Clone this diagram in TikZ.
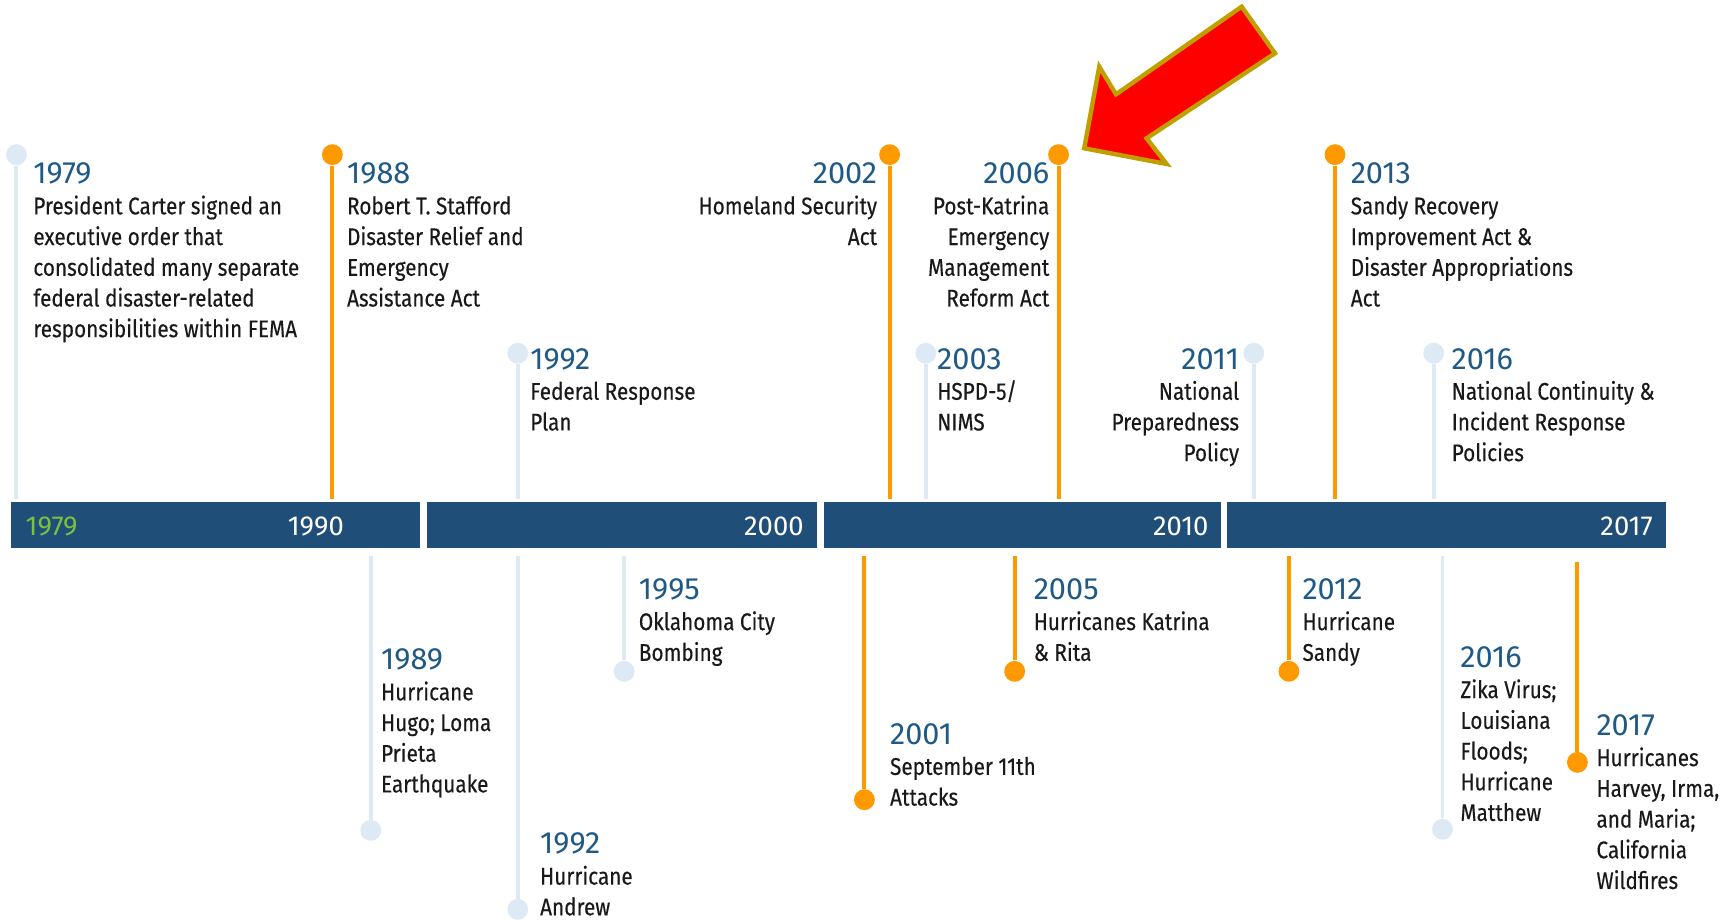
\documentclass[tikz,border=0pt]{standalone}
\usepackage{fontspec}
\setmainfont{Fira Sans}[FakeStretch=0.86, FakeBold=0.3]
\newfontfamily\yearfont{Fira Sans}
\definecolor{barblue}{RGB}{31,78,121}
\definecolor{yearblue}{RGB}{31,90,135}
\definecolor{lightstem}{RGB}{221,233,245}
\definecolor{orangestem}{RGB}{255,153,0}
\definecolor{bargreen}{RGB}{122,193,66}
\definecolor{arrowred}{RGB}{255,0,0}
\definecolor{arrowgold}{RGB}{191,160,0}
\definecolor{bodytext}{RGB}{25,25,25}
\newcommand\yr[1]{{\yearfont\fontsize{14}{14}\selectfont\color{yearblue}#1}}
\tikzset{
  segbar/.style={fill=barblue, draw=none, minimum height=21pt, inner sep=0pt, anchor=north west, outer sep=0pt},
  barlbl/.style={inner sep=0pt, text=white, font=\yearfont\fontsize{12.5}{12.5}\selectfont},
  dotL/.style={circle, fill=lightstem, draw=none, minimum size=9.5pt, inner sep=0pt},
  dotO/.style={circle, fill=orangestem, draw=none, minimum size=9.5pt, inner sep=0pt},
  stemL/.style={draw=lightstem, line width=1.8pt},
  stemO/.style={draw=orangestem, line width=1.8pt},
  txt/.style={inner sep=0pt, align=left, anchor=north west, text=bodytext, font=\fontsize{11}{14}\selectfont},
  txtR/.style={txt, align=right, anchor=north east},
  bigarrow/.style={fill=arrowred, draw=arrowgold, line width=2pt, line join=miter}
}
\begin{document}
\begin{tikzpicture}[x=0.5pt, y=-0.5pt]
\useasboundingbox (0,0) rectangle (1568,838);
\fill[white] (0,0) rectangle (1568,838);

% timeline bar
\node[segbar, minimum width=186.5pt] (seg1) at (10,458) {};
\node[segbar, minimum width=178pt] (seg2) at (389,458) {};
\node[segbar, minimum width=181pt] (seg3) at (751,458) {};
\node[segbar, minimum width=200pt] (seg4) at (1119,458) {};
\node[barlbl, anchor=west, text=bargreen] (b1979) at (23,480) {1979};
\node[barlbl, anchor=west] (b1990) at (262,480) {1990};
\node[barlbl, anchor=east] (b2000) at (733,480) {2000};
\node[barlbl, anchor=east] (b2010) at (1102,480) {2010};
\node[barlbl, anchor=east] (b2017) at (1507,480) {2017};

% ---------- events above ----------
% 1979
\node[dotL] (d1979) at (15,141) {};
\coordinate (e1979) at (15,455);
\draw[stemL] (d1979) -- (e1979);
\node[txt] (t1979) at (30,148) {\yr{1979}\\President Carter signed an\\executive order that\\consolidated many separate\\federal disaster-related\\responsibilities within FEMA};
% 1988
\node[dotO] (d1988) at (303,141) {};
\coordinate (e1988) at (303,455);
\draw[stemO] (d1988) -- (e1988);
\node[txt] (t1988) at (316,148) {\yr{1988}\\Robert T. Stafford\\Disaster Relief and\\Emergency\\Assistance Act};
% 1992 plan
\node[dotL] (d1992a) at (472,322) {};
\coordinate (e1992a) at (472,455);
\draw[stemL] (d1992a) -- (e1992a);
\node[txt] (t1992a) at (483,317) {\yr{1992}\\Federal Response\\Plan};
% 2002
\node[dotO] (d2002) at (811,141) {};
\coordinate (e2002) at (811,455);
\draw[stemO] (d2002) -- (e2002);
\node[txtR] (t2002) at (800,148) {\yr{2002}\\Homeland Security\\Act};
% 2003
\node[dotL] (d2003) at (844,322) {};
\coordinate (e2003) at (844,455);
\draw[stemL] (d2003) -- (e2003);
\node[txt] (t2003) at (854,317) {\yr{2003}\\HSPD-5/\\NIMS};
% 2006
\node[dotO] (d2006) at (965,141) {};
\coordinate (e2006) at (965,455);
\draw[stemO] (d2006) -- (e2006);
\node[txtR] (t2006) at (957,148) {\yr{2006}\\Post-Katrina\\Emergency\\Management\\Reform Act};
% 2011
\node[dotL] (d2011) at (1143,322) {};
\coordinate (e2011) at (1143,455);
\draw[stemL] (d2011) -- (e2011);
\node[txtR] (t2011) at (1130,317) {\yr{2011}\\National\\Preparedness\\Policy};
% 2013
\node[dotO] (d2013) at (1217,141) {};
\coordinate (e2013) at (1217,455);
\draw[stemO] (d2013) -- (e2013);
\node[txt] (t2013) at (1231,148) {\yr{2013}\\Sandy Recovery\\Improvement Act \&\\Disaster Appropriations\\Act};
% 2016 policies
\node[dotL] (d2016a) at (1307,322) {};
\coordinate (e2016a) at (1307,455);
\draw[stemL] (d2016a) -- (e2016a);
\node[txt] (t2016a) at (1323,317) {\yr{2016}\\National Continuity \&\\Incident Response\\Policies};

% ---------- events below ----------
% 1989
\node[dotL] (d1989) at (338,757) {};
\coordinate (s1989) at (338,507);
\draw[stemL] (s1989) -- (d1989);
\node[txt] (t1989) at (347,591) {\yr{1989}\\Hurricane\\Hugo; Loma\\Prieta\\Earthquake};
% 1992 Andrew
\node[dotL] (d1992b) at (472,829) {};
\coordinate (s1992b) at (472,507);
\draw[stemL] (s1992b) -- (d1992b);
\node[txt] (t1992b) at (492,759) {\yr{1992}\\Hurricane\\Andrew};
% 1995
\node[dotL] (d1995) at (569,612) {};
\coordinate (s1995) at (569,507);
\draw[stemL] (s1995) -- (d1995);
\node[txt] (t1995) at (582,527) {\yr{1995}\\Oklahoma City\\Bombing};
% 2001
\node[dotO] (d2001) at (788,729) {};
\coordinate (s2001) at (788,507);
\draw[stemO] (s2001) -- (d2001);
\node[txt] (t2001) at (811,659) {\yr{2001}\\September 11th\\Attacks};
% 2005
\node[dotO] (d2005) at (925,612) {};
\coordinate (s2005) at (925,507);
\draw[stemO] (s2005) -- (d2005);
\node[txt] (t2005) at (942,527) {\yr{2005}\\Hurricanes Katrina\\\& Rita};
% 2012
\node[dotO] (d2012) at (1175,612) {};
\coordinate (s2012) at (1175,507);
\draw[stemO] (s2012) -- (d2012);
\node[txt] (t2012) at (1187,527) {\yr{2012}\\Hurricane\\Sandy};
% 2016 Zika
\node[dotL] (d2016b) at (1315,756) {};
\coordinate (s2016b) at (1315,507);
\draw[stemL] (s2016b) -- (d2016b);
\node[txt] (t2016b) at (1331,589) {\yr{2016}\\Zika Virus;\\Louisiana\\Floods;\\Hurricane\\Matthew};
% 2017
\node[dotO] (d2017) at (1438,695) {};
\coordinate (s2017) at (1438,512);
\draw[stemO] (s2017) -- (d2017);
\node[txt] (t2017) at (1455,651) {\yr{2017}\\Hurricanes\\Harvey, Irma,\\and Maria;\\California\\Wildfires};

% ---------- red arrow ----------
\draw[bigarrow] (1131.9,6.1) -- (1162.3,48.6) -- (1045.3,126.1) -- (1063.5,149.5)
  -- (988.4,135.2) -- (1002.1,60.8) -- (1017.4,86.0) -- cycle;
\end{tikzpicture}
\end{document}
